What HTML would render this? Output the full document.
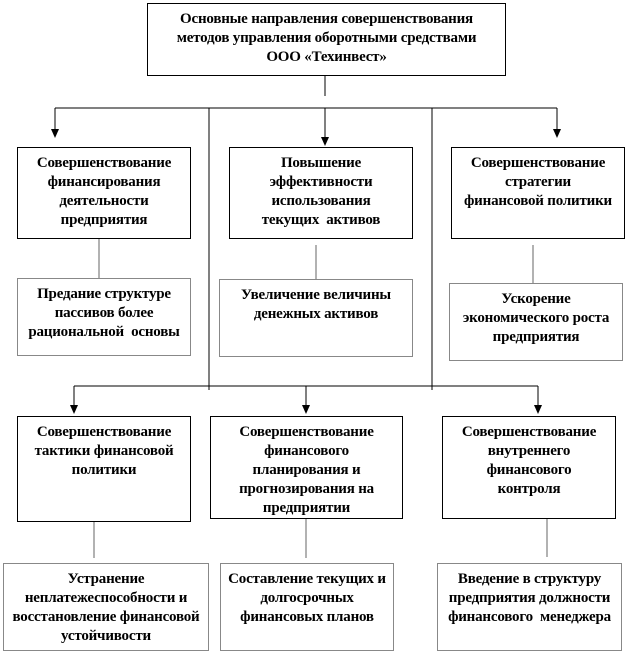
<!DOCTYPE html>
<html><head><meta charset="utf-8"><style>
body{margin:0;background:#fff;width:630px;height:654px;position:relative;overflow:hidden}
.b{position:absolute;box-sizing:border-box;border:1px solid #000;background:#fff;font:bold 15px/19px "Liberation Serif","Noto Serif CJK SC",serif;text-align:center;padding-top:6px;letter-spacing:-0.2px;color:#000;white-space:nowrap}
.g{border-color:#888}
svg{position:absolute;left:0;top:0}
</style></head><body>
<svg width="630" height="654">
<g stroke="#000" stroke-width="1" fill="none">
<line x1="325" y1="76" x2="325" y2="96"/>
<line x1="55" y1="108" x2="557" y2="108"/>
<line x1="55" y1="108" x2="55" y2="130"/>
<line x1="325" y1="108" x2="325" y2="138"/>
<line x1="557" y1="108" x2="557" y2="130"/>
<line x1="209" y1="108" x2="209" y2="390"/>
<line x1="432" y1="108" x2="432" y2="390"/>
<line x1="74" y1="386" x2="538" y2="386"/>
<line x1="74" y1="386" x2="74" y2="406"/>
<line x1="306" y1="386" x2="306" y2="406"/>
<line x1="538" y1="386" x2="538" y2="406"/>
</g>
<g fill="#000">
<polygon points="51,129 59,129 55,138"/>
<polygon points="321,137 329,137 325,146"/>
<polygon points="553,129 561,129 557,138"/>
<polygon points="70,405 78,405 74,414"/>
<polygon points="302,405 310,405 306,414"/>
<polygon points="534,405 542,405 538,414"/>
</g>
<g stroke="#666" stroke-width="1">
<line x1="99" y1="238" x2="99" y2="278"/>
<line x1="316" y1="245" x2="316" y2="285"/>
<line x1="533" y1="245" x2="533" y2="283"/>
<line x1="94" y1="521" x2="94" y2="558"/>
<line x1="306" y1="518" x2="306" y2="558"/>
<line x1="547" y1="518" x2="547" y2="557"/>
</g>
</svg>
<div class="b" style="left:147px;top:3px;width:359px;height:73px;padding-top:6px;line-height:19px">Основные направления совершенствования<br>методов управления оборотными средствами<br>ООО «Техинвест»</div>

<div class="b" style="left:17px;top:147px;width:174px;height:92px">Совершенствование<br>финансирования<br>деятельности<br>предприятия</div>
<div class="b" style="left:229px;top:147px;width:184px;height:92px">Повышение<br>эффективности<br>использования<br>текущих&nbsp; активов</div>
<div class="b" style="left:451px;top:147px;width:174px;height:92px">Совершенствование<br>стратегии<br>финансовой политики</div>

<div class="b g" style="left:17px;top:278px;width:174px;height:78px">Предание структуре<br>пассивов более<br>рациональной&nbsp; основы</div>
<div class="b g" style="left:219px;top:279px;width:194px;height:78px">Увеличение величины<br>денежных активов</div>
<div class="b g" style="left:449px;top:283px;width:174px;height:78px">Ускорение<br>экономического роста<br>предприятия</div>

<div class="b" style="left:17px;top:416px;width:174px;height:106px">Совершенствование<br>тактики финансовой<br>политики</div>
<div class="b" style="left:210px;top:416px;width:193px;height:103px">Совершенствование<br>финансового<br>планирования и<br>прогнозирования на<br>предприятии</div>
<div class="b" style="left:442px;top:416px;width:174px;height:103px">Совершенствование<br>внутреннего<br>финансового<br>контроля</div>

<div class="b g" style="left:3px;top:563px;width:206px;height:88px">Устранение<br>неплатежеспособности и<br>восстановление финансовой<br>устойчивости</div>
<div class="b g" style="left:220px;top:563px;width:174px;height:88px">Составление текущих и<br>долгосрочных<br>финансовых планов</div>
<div class="b g" style="left:437px;top:563px;width:185px;height:88px">Введение в структуру<br>предприятия должности<br>финансового&nbsp; менеджера</div>
</body></html>
